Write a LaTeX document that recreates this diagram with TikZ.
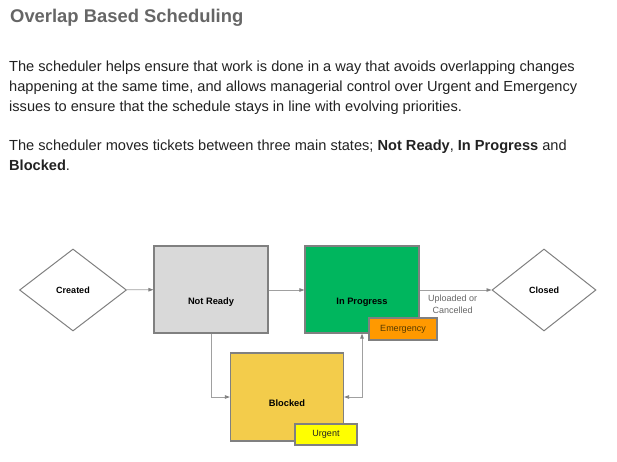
\documentclass[tikz,border=0pt]{standalone}
\usepackage{fontspec}
\setmainfont{Liberation Sans}
\usetikzlibrary{positioning,shapes.geometric,arrows.meta}

\definecolor{heading}{HTML}{666666}
\definecolor{bodytext}{HTML}{222222}
\definecolor{edge}{HTML}{808080}
\definecolor{link}{HTML}{A0A0A0}
\definecolor{notready}{HTML}{D9D9D9}
\definecolor{inprogress}{HTML}{00B65E}
\definecolor{blocked}{HTML}{F3CC4B}
\definecolor{emergency}{HTML}{FF9900}
\definecolor{emergencytext}{HTML}{553A00}
\definecolor{urgent}{HTML}{FFFF00}

\tikzset{
  state/.style={draw=edge, line width=1.2pt, minimum width=114pt, minimum height=87pt, inner sep=0pt},
  endstate/.style={diamond, draw=edge, line width=1pt, fill=white, inner sep=0pt, font=\fontsize{9}{10}\selectfont\bfseries},
  statelabel/.style={font=\fontsize{9.3}{10}\selectfont\bfseries},
  flag/.style={draw=edge, line width=1.2pt, inner sep=0pt, font=\fontsize{9}{10}\selectfont},
  para/.style={anchor=base west, text=bodytext, font=\fontsize{14.6}{20}\selectfont, align=left, inner sep=0pt},
  flow/.style={draw=link, line width=0.8pt, -{Triangle[length=5pt,width=3.5pt,color=edge]}},
}

\begin{document}
\begin{tikzpicture}[x=1pt, y=-1pt]
\useasboundingbox (0,0) rectangle (617,462);

\def\xa{73}
\def\xb{211}
\def\xc{287}
\def\xd{362}
\def\xe{544}

\def\ya{289.5}
\def\yb{397}

% text above the diagram
\node[anchor=base west, text=heading, font=\fontsize{18.4}{20}\selectfont\bfseries, inner sep=0pt] (title) at (10,23) {Overlap Based Scheduling};
\node[para] (intro) at (9,111.5)
  {The scheduler helps ensure that work is done in a way that avoids overlapping changes\\
   happening at the same time, and allows managerial control over Urgent and Emergency\\
   issues to ensure that the schedule stays in line with evolving priorities.};
\node[para] (states) at (9,170.5)
  {The scheduler moves tickets between three main states; \textbf{Not Ready}, \textbf{In Progress} and\\
   \textbf{Blocked}.};

% states
\node[endstate, minimum width=107pt, minimum height=82pt] (created) at (\xa, 290) {Created};
\node[state, fill=notready] (nr) at (\xb, \ya) {};
\node[state, fill=inprogress] (ip) at (\xd, \ya) {};
\node[state, fill=blocked, minimum width=113pt, minimum height=88pt] (bl) at (\xc, \yb) {};
\node[endstate, minimum width=104pt, minimum height=82pt] (closed) at (\xe, 290) {Closed};

\node[statelabel] at (\xb, 302.5) {Not Ready};
\node[statelabel] at (\xd, 302.5) {In Progress};
\node[statelabel] at (\xc, 403.5) {Blocked};

\node[flag, fill=emergency, text=emergencytext, minimum width=68pt, minimum height=22pt] (em) at (403,329) {Emergency};
\node[flag, fill=urgent, text=bodytext, minimum width=62pt, minimum height=21pt] (ur) at (326,434.5) {Urgent};

% transitions
\draw[flow] (created) -- (nr);
\draw[flow] (nr.east |- 0,290) -- (ip.west |- 0,290);
\draw[flow] (ip.east |- 0,290) -- node[below, text=heading, align=center, font=\fontsize{9}{12}\selectfont, xshift=-3pt, yshift=-1pt] {Uploaded or\\Cancelled} (closed);
\draw[flow] (nr.south) |- (bl.west);
\draw[flow, {Triangle[length=5pt,width=3.5pt,color=edge]}-{Triangle[length=5pt,width=3.5pt,color=edge]}] (bl.east) -| (ip.south);

\end{tikzpicture}
\end{document}
